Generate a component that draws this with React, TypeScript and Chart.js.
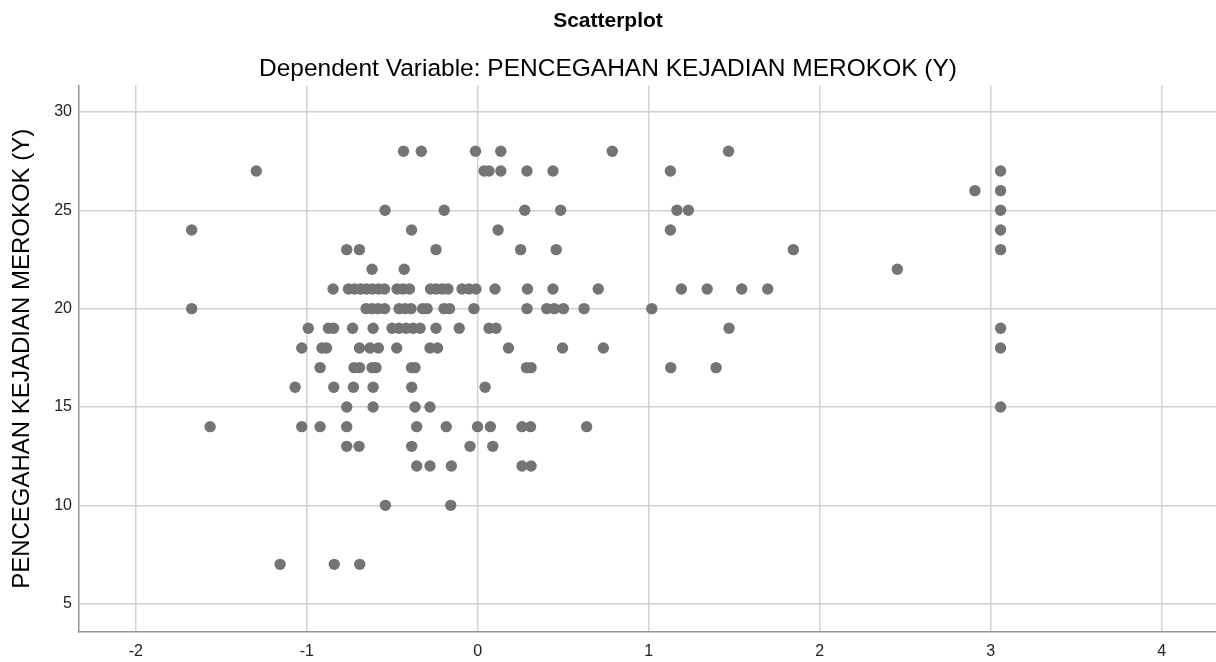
import React, { useEffect, useRef } from 'react';
import { Chart, registerables } from 'chart.js';

Chart.register(...registerables);

// Axis tick labels
const xTicks = [-2, -1, 0, 1, 2, 3, 4];
const yTicks = [5, 10, 15, 20, 25, 30];

// Observed values of PENCEGAHAN KEJADIAN MEROKOK (Y), one row per level
const yLevels = [28, 27, 26, 25, 24, 23, 22, 21, 20, 19, 18, 17, 16, 15, 14, 13, 12, 10, 7];

// Standardized predicted values (x) for each observed level
const row28 = [-0.434, -0.33, -0.013, 0.135, 0.787, 1.467];
const row27 = [-1.295, 0.037, 0.066, 0.135, 0.288, 0.44, 1.127, 3.058];
const row26 = [2.908, 3.058];
const row25 = [-0.542, -0.196, 0.275, 0.485, 1.165, 1.232, 3.058];
const row24 = [-1.673, -0.387, 0.119, 1.127, 3.058];
const row23 = [-0.766, -0.692, -0.244, 0.251, 0.459, 1.846, 3.058];
const row22 = [-0.618, -0.43, 2.454];
const row21 = [-0.846, -0.756, -0.72, -0.685, -0.65, -0.615, -0.58, -0.545, -0.472, -0.437, -0.399, -0.276, -0.244, -0.209, -0.174, -0.092, -0.051, -0.01, 0.101, 0.291, 0.44, 0.705, 1.191, 1.342, 1.544, 1.696];
const row20 = [-1.673, -0.653, -0.618, -0.583, -0.545, -0.46, -0.425, -0.39, -0.322, -0.296, -0.197, -0.165, -0.022, 0.288, 0.404, 0.448, 0.501, 0.622, 1.018];
const row19 = [-0.991, -0.873, -0.843, -0.732, -0.612, -0.501, -0.46, -0.419, -0.378, -0.337, -0.244, -0.108, 0.066, 0.107, 1.47, 3.058];
const row18 = [-1.029, -0.911, -0.884, -0.692, -0.63, -0.581, -0.474, -0.279, -0.235, 0.18, 0.496, 0.735, 3.058];
const row17 = [-0.922, -0.723, -0.691, -0.618, -0.595, -0.387, -0.367, 0.285, 0.312, 1.129, 1.394];
const row16 = [-1.068, -0.842, -0.727, -0.612, -0.386, 0.043];
const row15 = [-0.766, -0.612, -0.367, -0.279, 3.058];
const row14 = [-1.565, -1.029, -0.922, -0.766, -0.357, -0.184, -0.001, 0.074, 0.259, 0.309, 0.637];
const row13 = [-0.766, -0.694, -0.386, -0.045, 0.088];
const row12 = [-0.357, -0.279, -0.154, 0.259, 0.312];
const row10 = [-0.54, -0.158];
const row7 = [-1.156, -0.839, -0.69];

const xRows = [row28, row27, row26, row25, row24, row23, row22, row21, row20, row19, row18, row17, row16, row15, row14, row13, row12, row10, row7];

const FONT = '"Liberation Sans", Arial, Helvetica, sans-serif';

export default function App() {
  const canvasRef = useRef<HTMLCanvasElement | null>(null);

  useEffect(() => {
    document.body.style.margin = '0';
    const canvas = canvasRef.current;
    if (!canvas) return;

    const points: { x: number; y: number }[] = [];
    yLevels.forEach((yv, i) => {
      xRows[i].forEach((xv) => points.push({ x: xv, y: yv }));
    });

    const chart = new Chart(canvas, {
      type: 'scatter',
      data: {
        datasets: [
          {
            label: 'PENCEGAHAN KEJADIAN MEROKOK (Y)',
            data: points,
            backgroundColor: '#747474',
            borderWidth: 0,
            pointRadius: 5.7,
            pointHoverRadius: 5.7,
          },
        ],
      },
      options: {
        animation: false,
        responsive: true,
        maintainAspectRatio: false,
        layout: { padding: 0, autoPadding: false },
        plugins: {
          legend: { display: false },
          tooltip: { enabled: false },
          title: {
            display: true,
            text: 'Scatterplot',
            color: '#000',
            font: { family: FONT, size: 21, weight: 'bold' },
            padding: { top: 9, bottom: 10 },
          },
          subtitle: {
            display: true,
            text: 'Dependent Variable: PENCEGAHAN KEJADIAN MEROKOK (Y)',
            color: '#000',
            font: { family: FONT, size: 24.5 },
            padding: { top: 10, bottom: 2 },
          },
        },
        scales: {
          x: {
            type: 'linear',
            min: -2.332,
            max: 4.318,
            afterBuildTicks: (s: any) => {
              s.ticks = xTicks.map((v) => ({ value: v }));
            },
            afterFit: (s: any) => {
              s.height = 30;
            },
            grid: { color: '#d2d2d2', lineWidth: 1.5, drawTicks: false },
            border: { display: true, color: '#959595', width: 1.5 },
            ticks: { color: '#222', font: { family: FONT, size: 16 }, padding: 10 },
          },
          y: {
            type: 'linear',
            min: 3.56,
            max: 31.34,
            afterBuildTicks: (s: any) => {
              s.ticks = yTicks.map((v) => ({ value: v }));
            },
            afterFit: (s: any) => {
              s.width = 79;
            },
            grid: { color: '#d2d2d2', lineWidth: 1.5, drawTicks: false },
            border: { display: true, color: '#959595', width: 1.5 },
            ticks: { color: '#222', font: { family: FONT, size: 16 }, padding: 7 },
            title: {
              display: true,
              text: 'PENCEGAHAN KEJADIAN MEROKOK (Y)',
              color: '#000',
              font: { family: FONT, size: 24 },
              padding: { top: 8, bottom: 0 },
            },
          },
        },
      },
    });

    return () => chart.destroy();
  }, []);

  return (
    <div style={{ position: 'absolute', left: 0, top: 0, width: 1216, height: 662 }}>
      <canvas ref={canvasRef} />
    </div>
  );
}
